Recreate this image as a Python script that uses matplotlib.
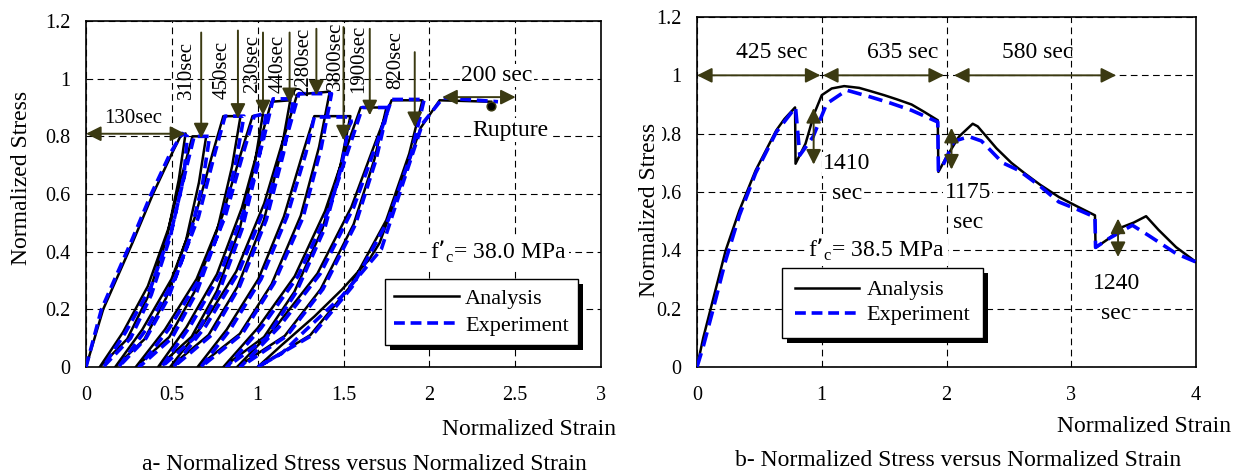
import matplotlib
matplotlib.use("Agg")
import matplotlib.pyplot as plt
from matplotlib.patches import Rectangle
from matplotlib.transforms import IdentityTransform

plt.rcParams['font.family'] = ['Liberation Serif', 'DejaVu Serif']

# ---------------- panel a: cyclic creep loops ----------------
strain_a_ana = [0, 0.1, 0.27, 0.39, 0.5, 0.55, 0.58,
                0.54, 0.47, 0.36, 0.24, 0.08,
                0.215, 0.36, 0.48, 0.566, 0.62, 0.70,
                0.658, 0.583, 0.467, 0.34, 0.17,
                0.328, 0.498, 0.636, 0.737, 0.80, 0.90,
                0.851, 0.766, 0.632, 0.485, 0.29,
                0.46, 0.644, 0.793, 0.902, 0.97, 1.03,
                0.981, 0.896, 0.762, 0.615, 0.42,
                0.585, 0.763, 0.908, 1.014, 1.08, 1.19,
                1.134, 1.036, 0.882, 0.714, 0.49,
                0.675, 0.875, 1.038, 1.156, 1.23, 1.42,
                1.358, 1.251, 1.081, 0.896, 0.65,
                0.82, 1.004, 1.153, 1.262, 1.33, 1.54,
                1.481, 1.377, 1.214, 1.037, 0.80,
                1.0, 1.216, 1.392, 1.52, 1.60, 1.75,
                1.68, 1.559, 1.367, 1.158, 0.88,
                1.105, 1.348, 1.546, 1.69, 1.78, 1.96,
                1.883, 1.749, 1.538, 1.307, 1.0,
                1.14, 1.33, 1.49, 1.65, 1.71, 1.85, 1.95, 2.06, 2.36]
stress_a_ana = [0, 0.2, 0.43, 0.6, 0.74, 0.8, 0.81,
                0.648, 0.446, 0.243, 0.097, 0,
                0.12, 0.28, 0.48, 0.68, 0.8, 0.8,
                0.64, 0.44, 0.24, 0.096, 0,
                0.13, 0.305, 0.522, 0.74, 0.87, 0.87,
                0.696, 0.479, 0.261, 0.104, 0,
                0.13, 0.305, 0.522, 0.74, 0.87, 0.875,
                0.70, 0.481, 0.263, 0.105, 0,
                0.138, 0.322, 0.552, 0.782, 0.92, 0.925,
                0.74, 0.509, 0.278, 0.111, 0,
                0.142, 0.331, 0.567, 0.803, 0.945, 0.955,
                0.764, 0.525, 0.287, 0.115, 0,
                0.13, 0.305, 0.522, 0.74, 0.87, 0.87,
                0.696, 0.479, 0.261, 0.104, 0,
                0.135, 0.315, 0.54, 0.765, 0.90, 0.90,
                0.72, 0.495, 0.27, 0.108, 0,
                0.139, 0.324, 0.555, 0.786, 0.925, 0.925,
                0.74, 0.509, 0.278, 0.111, 0,
                0.076, 0.175, 0.268, 0.373, 0.43, 0.66, 0.83, 0.925, 0.92]

strain_a_exp = [0, 0.09, 0.26, 0.38, 0.49, 0.56, 0.59,
                0.57, 0.49, 0.38, 0.26, 0.10,
                0.23, 0.38, 0.50, 0.58, 0.63, 0.72,
                0.68, 0.60, 0.48, 0.35, 0.19,
                0.35, 0.52, 0.655, 0.75, 0.81, 0.92,
                0.87, 0.78, 0.645, 0.50, 0.31,
                0.48, 0.665, 0.81, 0.915, 0.98, 1.05,
                1.0, 0.91, 0.775, 0.63, 0.44,
                0.605, 0.78, 0.925, 1.03, 1.09, 1.21,
                1.15, 1.05, 0.895, 0.73, 0.51,
                0.695, 0.89, 1.055, 1.17, 1.24, 1.43,
                1.37, 1.265, 1.095, 0.91, 0.67,
                0.84, 1.02, 1.17, 1.28, 1.33, 1.54, 1.545, 1.53,
                1.49, 1.39, 1.225, 1.05, 0.82,
                1.02, 1.235, 1.41, 1.535, 1.61, 1.76,
                1.69, 1.57, 1.38, 1.17, 0.90,
                1.125, 1.365, 1.56, 1.70, 1.78, 1.97,
                1.895, 1.76, 1.55, 1.32, 1.0,
                1.14, 1.28, 1.49, 1.72, 1.96, 2.08, 2.40]
stress_a_exp = [0, 0.2, 0.43, 0.6, 0.74, 0.81, 0.80,
                0.66, 0.45, 0.25, 0.10, 0,
                0.12, 0.28, 0.48, 0.68, 0.80, 0.80,
                0.64, 0.44, 0.24, 0.10, 0,
                0.13, 0.31, 0.52, 0.74, 0.87, 0.87,
                0.70, 0.48, 0.26, 0.10, 0,
                0.13, 0.31, 0.52, 0.74, 0.87, 0.88,
                0.70, 0.48, 0.26, 0.10, 0,
                0.14, 0.32, 0.55, 0.78, 0.93, 0.93,
                0.74, 0.51, 0.28, 0.11, 0,
                0.14, 0.33, 0.57, 0.80, 0.948, 0.948,
                0.76, 0.52, 0.29, 0.115, 0,
                0.13, 0.305, 0.52, 0.74, 0.867, 0.867, 0.85, 0.832,
                0.70, 0.48, 0.26, 0.10, 0,
                0.135, 0.315, 0.54, 0.765, 0.90, 0.90,
                0.72, 0.495, 0.27, 0.108, 0,
                0.139, 0.324, 0.555, 0.786, 0.928, 0.928,
                0.74, 0.509, 0.278, 0.111, 0,
                0.047, 0.128, 0.245, 0.408, 0.844, 0.934, 0.92]

creep_labels = ['310sec', '450sec', '230sec', '440sec', '2280sec', '3800sec', '1900sec', '820sec']
creep_x = [0.671, 0.885, 1.031, 1.186, 1.342, 1.5, 1.653, 1.915]
creep_top = [1.16, 1.167, 1.16, 1.16, 1.173, 1.179, 1.173, 1.092]
creep_tip = [0.793, 0.861, 0.873, 0.915, 0.942, 0.786, 0.873, 0.832]
creep_lab_x = [0.587, 0.792, 0.97, 1.122, 1.268, 1.453, 1.589, 1.803]
creep_lab_y = [0.93, 0.93, 0.95, 0.95, 0.94, 0.96, 0.95, 0.965]

# ---------------- panel b: monotonic with creep drops ----------------
strain_b_ana = [0, 0.05, 0.12, 0.23, 0.34, 0.47, 0.635, 0.7, 0.786, 0.79, 0.87, 0.94, 1.0,
                1.08, 1.18, 1.3, 1.39, 1.5, 1.6, 1.72, 1.82, 1.93, 1.935, 2.0, 2.1, 2.21,
                2.25, 2.4, 2.52, 2.63, 2.75, 2.9, 3.05, 3.19, 3.195, 3.3, 3.41, 3.5, 3.6,
                3.7, 3.84, 4.0]
stress_b_ana = [0, 0.1, 0.217, 0.40, 0.537, 0.674, 0.811, 0.85, 0.89, 0.697, 0.766, 0.869, 0.932,
                0.955, 0.963, 0.957, 0.946, 0.932, 0.918, 0.9, 0.875, 0.846, 0.669, 0.72, 0.79, 0.834,
                0.825, 0.75, 0.70, 0.663, 0.625, 0.583, 0.55, 0.52, 0.409, 0.44, 0.48, 0.495, 0.517,
                0.47, 0.411, 0.36]
strain_b_exp = [0, 0.05, 0.12, 0.23, 0.34, 0.47, 0.635, 0.78, 0.79, 0.824, 0.93, 1.04, 1.2,
                1.39, 1.55, 1.72, 1.93, 1.935, 1.97, 2.06, 2.18, 2.28, 2.45, 2.58, 2.75, 2.9,
                3.05, 3.19, 3.195, 3.3, 3.49, 3.62, 3.84, 4.0]
stress_b_exp = [0, 0.07, 0.183, 0.366, 0.52, 0.665, 0.805, 0.885, 0.89, 0.726, 0.789, 0.903, 0.949,
                0.926, 0.905, 0.88, 0.84, 0.674, 0.69, 0.774, 0.79, 0.775, 0.70, 0.674, 0.62, 0.566,
                0.54, 0.514, 0.41, 0.44, 0.486, 0.451, 0.389, 0.36]

hold_labels = ['425 sec', '635 sec', '580 sec']
hold_start = [0.0, 1.01, 2.06]
hold_end = [0.99, 1.98, 3.36]
hold_lab_x = [0.6, 1.65, 2.73]

drop_x = [0.935, 2.04, 3.375]
drop_top = [0.888, 0.82, 0.509]
drop_bot = [0.694, 0.677, 0.377]
drop_labels = ['1410', '1175', '1240']
drop_lab_x = [1.2, 2.17, 3.36]
drop_lab_y = [0.697, 0.60, 0.286]

arrow_col = '#3b3a12'
fig = plt.figure(figsize=(12.38, 4.75), dpi=100)
ax1 = fig.add_axes([86 / 1238, 1 - 367 / 475, 515 / 1238, 346 / 475])
ax2 = fig.add_axes([697 / 1238, 1 - 367 / 475, 499 / 1238, 350 / 475])


def style_axes(ax, xmax, xticks, xlabels):
    ax.set_xlim(0, xmax)
    ax.set_ylim(0, 1.2)
    ax.set_xticks(xticks)
    ax.set_xticklabels(xlabels)
    ax.set_yticks([0, 0.2, 0.4, 0.6, 0.8, 1.0, 1.2])
    ax.set_yticklabels(['0', '0.2', '0.4', '0.6', '0.8', '1', '1.2'])
    ax.tick_params(axis='both', length=0, labelsize=14.5)
    ax.tick_params(axis='x', pad=14)
    ax.tick_params(axis='y', pad=11)
    ax.grid(True, color='black', linestyle=(0, (6, 4)), linewidth=0.8)
    ax.set_axisbelow(True)
    for s in ax.spines.values():
        s.set_linewidth(1.2)


style_axes(ax1, 3, [0, 0.5, 1, 1.5, 2, 2.5, 3], ['0', '0.5', '1', '1.5', '2', '2.5', '3'])
style_axes(ax2, 4, [0, 1, 2, 3, 4], ['0', '1', '2', '3', '4'])

# panel a curves
la, = ax1.plot(strain_a_ana, stress_a_ana, color='black', lw=1.8, zorder=3, solid_joinstyle='round')
le, = ax1.plot(strain_a_exp, stress_a_exp, color='#0000ff', lw=2.6, linestyle=(0, (3, 1.6)), zorder=3)
ax1.scatter([2.36], [0.905], s=40, color='black', edgecolor=arrow_col, zorder=4)

aprops = dict(arrowstyle='-|>,head_length=0.5,head_width=0.25', color=arrow_col, lw=1.4,
              mutation_scale=18, shrinkA=0, shrinkB=0)
dprops = dict(arrowstyle='<|-|>,head_length=0.5,head_width=0.25', color=arrow_col, lw=1.4,
              mutation_scale=18, shrinkA=0, shrinkB=0)

for lab, x, top, tip, lx, ly in zip(creep_labels, creep_x, creep_top, creep_tip, creep_lab_x, creep_lab_y):
    ax1.annotate('', xy=(x, tip), xytext=(x, top), arrowprops=aprops, zorder=5)
    ax1.text(lx, ly, lab, rotation=90, ha='center', va='bottom', fontsize=15, zorder=5)

ax1.annotate('', xy=(0.0, 0.809), xytext=(0.578, 0.809), arrowprops=dprops, zorder=5)
ax1.text(0.276, 0.861, '130sec', ha='center', va='center', fontsize=15)
ax1.annotate('', xy=(2.075, 0.936), xytext=(2.503, 0.936), arrowprops=dprops, zorder=5)
ax1.text(2.395, 1.011, '200 sec', ha='center', va='center', fontsize=17,
         bbox=dict(facecolor='white', edgecolor='none', pad=1))
ax1.text(2.474, 0.821, 'Rupture', ha='center', va='center', fontsize=17,
         bbox=dict(facecolor='white', edgecolor='none', pad=1))
ax1.text(2.4, 0.4, 'f’$_\\mathregular{c}$= 38.0 MPa', ha='center', va='center', fontsize=17,
         bbox=dict(facecolor='white', edgecolor='none', pad=2))

# panel b curves
ax2.plot(strain_b_ana, stress_b_ana, color='black', lw=1.8, zorder=3, solid_joinstyle='round')
ax2.plot(strain_b_exp, stress_b_exp, color='#0000ff', lw=2.6, linestyle=(0, (4, 2)), zorder=3)

for lab, x0, x1, lx in zip(hold_labels, hold_start, hold_end, hold_lab_x):
    ax2.annotate('', xy=(x0, 1.0), xytext=(x1, 1.0), arrowprops=dprops, zorder=5)
    ax2.text(lx, 1.077, lab, ha='center', va='center', fontsize=17)

for lab, x, top, bot, lx, ly in zip(drop_labels, drop_x, drop_top, drop_bot, drop_lab_x, drop_lab_y):
    ax2.annotate('', xy=(x, bot), xytext=(x, top), arrowprops=dprops, zorder=5)
    ax2.text(lx, ly, lab, ha='center', va='center', fontsize=17,
             bbox=dict(facecolor='white', edgecolor='none', pad=1))
    ax2.text(lx, ly - 0.103, 'sec', ha='center', va='center', fontsize=17,
             bbox=dict(facecolor='white', edgecolor='none', pad=1))

ax2.text(1.44, 0.4, 'f’$_\\mathregular{c}$= 38.5 MPa', ha='center', va='center', fontsize=17,
         bbox=dict(facecolor='white', edgecolor='none', pad=2))

# labels
for ax, lx, ly in ((ax1, 1.029, -0.182), (ax2, 1.07, -0.171)):
    ax.set_xlabel('Normalized Strain', fontsize=17, ha='right', va='center')
    ax.xaxis.set_label_coords(lx, ly)
ax1.set_ylabel('Normalized Stress', fontsize=17, va='center')
ax1.yaxis.set_label_coords(-0.126, 0.546)
ax2.set_ylabel('Normalized Stress', fontsize=17, va='center',
               bbox=dict(facecolor='white', edgecolor='none', pad=2))
ax2.yaxis.set_label_coords(-0.096, 0.449)

fig.text(364 / 1238, 1 - 465 / 475, 'a- Normalized Stress versus Normalized Strain',
         ha='center', va='center', fontsize=17)
fig.text(958 / 1238, 1 - 460 / 475, 'b- Normalized Stress versus Normalized Strain',
         ha='center', va='center', fontsize=17)

# legends with a hard black shadow
leg1 = ax1.legend([la, le], ['Analysis', 'Experiment'], loc='center', bbox_to_anchor=(0.768, 0.159),
                  fontsize=16, fancybox=False, edgecolor='black', framealpha=1, handlelength=2.9,
                  borderpad=0.4, labelspacing=0.3, handletextpad=0.3)
leg2 = ax2.legend([la, le], ['Analysis', 'Experiment'], loc='center', bbox_to_anchor=(0.372, 0.184),
                  fontsize=16, fancybox=False, edgecolor='black', framealpha=1, handlelength=2.9,
                  borderpad=0.55, labelspacing=0.2, handletextpad=0.35, borderaxespad=0)
for leg in (leg1, leg2):
    leg.get_frame().set_linewidth(1.0)

fig.canvas.draw()
for ax, leg in ((ax1, leg1), (ax2, leg2)):
    bb = leg.get_window_extent()
    sh = Rectangle((bb.x0 + 5, bb.y0 - 5), bb.width, bb.height, transform=IdentityTransform(),
                   facecolor='black', edgecolor='none', zorder=4.9)
    ax.add_artist(sh)

fig.savefig('out.png', dpi=100)
